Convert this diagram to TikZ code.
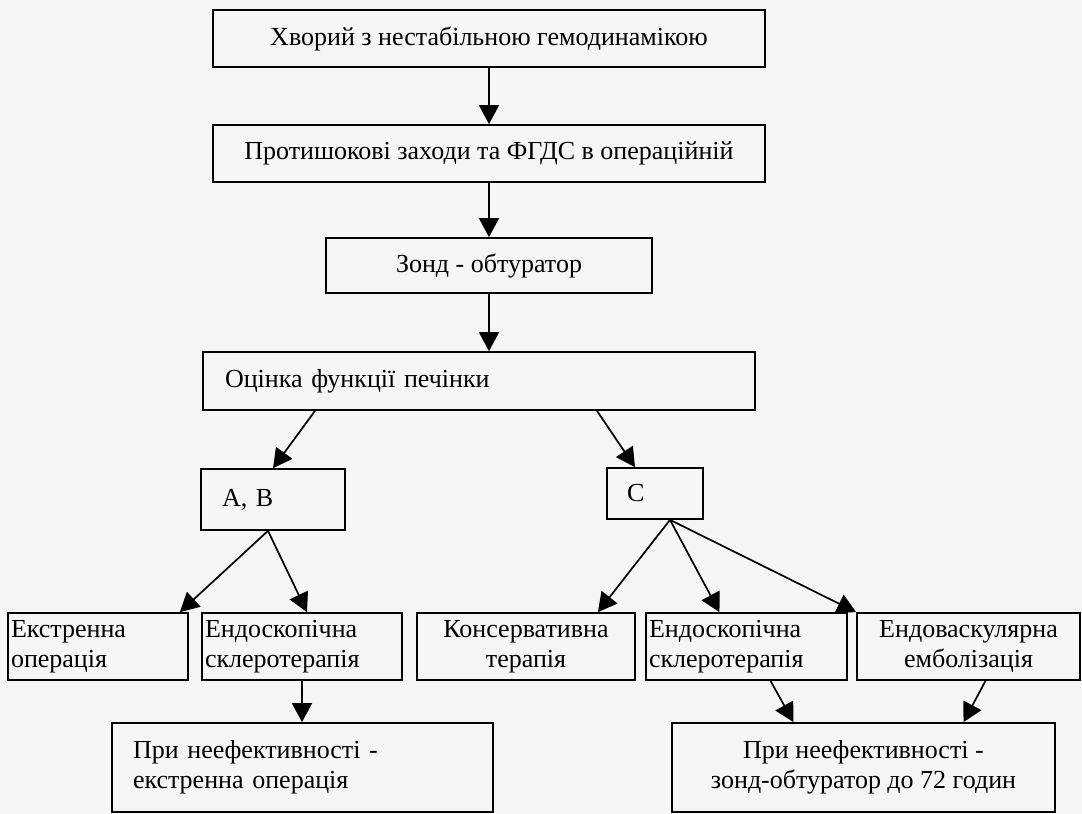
\documentclass[tikz,border=0pt]{standalone}
\usepackage{fontspec}
\setmainfont{Liberation Serif}
\usetikzlibrary{arrows.meta}

\begin{document}
\begin{tikzpicture}[x=1pt, y=-1pt,
		blok/.style={draw, line width=1.7pt, inner sep=0pt, font=\fontsize{26}{30}\selectfont},
		livo/.style={blok, align=left, inner xsep=#1},
		strilka/.style={line width=1.7pt, -{Triangle[length=19pt,width=20pt]}}]
		\useasboundingbox[fill=gray!7] (0,0) rectangle (1082,814);
		\node[blok, minimum width=552pt, minimum height=57pt] (hvoryi) at (489,38.5) {Хворий з нестабільною гемодинамікою};
		\node[blok, minimum width=552pt, minimum height=57pt] (proty) at (489,153.5) {Протишокові заходи та ФГДС в операційній};
		\node[blok, minimum width=326pt, minimum height=55pt] (zond) at (489,265.5) {Зонд - обтуратор};
		\node[livo=22pt, text width=508pt, minimum height=58pt] (otsinka) at (479,381) {Оцінка функції печінки};
		\node[livo=21pt, text width=102pt, minimum height=61pt] (AB) at (273,499.5) {A, B};
		\node[livo=20pt, text width=56pt, minimum height=51pt] (C) at (655,493.5) {C};
		\node[livo=3pt, text width=174pt, minimum height=67pt] (ekstr) at (98,646.5) {Екстренна\\операція};
		\node[livo=3pt, text width=194pt, minimum height=67pt] (endo1) at (302,646.5) {Ендоскопічна\\склеротерапія};
		\node[blok, align=center, minimum width=218pt, minimum height=67pt] (kons) at (526,646.5) {Консервативна\\терапія};
		\node[livo=3pt, text width=195pt, minimum height=67pt] (endo2) at (746.5,646.5) {Ендоскопічна\\склеротерапія};
		\node[blok, align=center, minimum width=223pt, minimum height=67pt] (endovas) at (968.5,646.5) {Ендоваскулярна\\емболізація};
		\node[livo=21pt, text width=339pt, minimum height=89pt] (fin1) at (302.5,767.5) {При неефективності -\\екстренна операція};
		\node[blok, align=center, minimum width=383pt, minimum height=89pt] (fin2) at (863.5,767.5) {При неефективності -\\зонд-обтуратор до 72 годин};
		\draw[strilka] (hvoryi.south) -- (proty.north);
		\draw[strilka] (proty.south) -- (zond.north);
		\draw[strilka] (zond.south) -- (zond.south |- otsinka.north);
		\draw[strilka] ([xshift=-164pt]otsinka.south) -- (AB.north);
		\draw[strilka] ([xshift=118pt]otsinka.south) -- ([xshift=-20pt]C.north);
		\draw[strilka] ([xshift=-5pt]AB.south) -- ([xshift=-9pt]ekstr.north east);
		\draw[strilka] ([xshift=-5pt]AB.south) -- ([xshift=5pt]endo1.north);
		\draw[strilka] ([xshift=15pt]C.south) -- ([xshift=-38pt]kons.north east);
		\draw[strilka] ([xshift=15pt]C.south) -- ([xshift=-27pt]endo2.north);
		\draw[strilka] ([xshift=15pt]C.south) -- (endovas.north west);
		\draw[strilka] (endo1.south) -- (endo1.south |- fin1.north);
		\draw[strilka] ([xshift=24pt]endo2.south) -- ([xshift=-70pt]fin2.north);
		\draw[strilka] ([xshift=17pt]endovas.south) -- ([xshift=100pt]fin2.north);
	\end{tikzpicture}
\end{document}
